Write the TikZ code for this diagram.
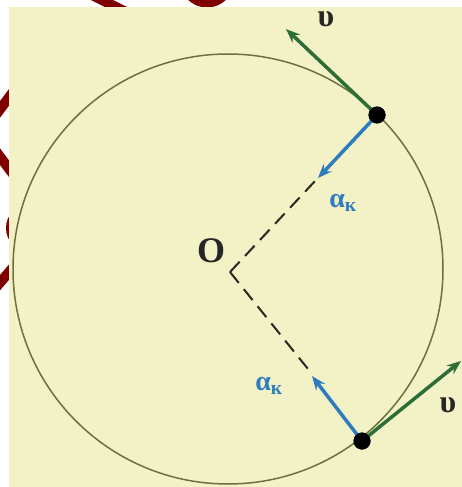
\documentclass[tikz,border=0pt]{standalone}
\usepackage{fontspec}
\setmainfont{Liberation Serif}
\usetikzlibrary{arrows.meta}
\definecolor{cream}{RGB}{243,241,198}
\definecolor{rim}{RGB}{105,115,60}
\definecolor{vgreen}{RGB}{45,110,55}
\definecolor{ablue}{RGB}{45,125,190}
\definecolor{deco}{RGB}{128,0,0}
\definecolor{dash}{RGB}{40,40,30}
\tikzset{
  decostroke/.style={draw=deco,line width=10pt},
  velarrow/.style={draw=vgreen,line width=3.5pt,-{Stealth[length=14pt,width=11pt]}},
  accarrow/.style={draw=ablue,line width=3.5pt,-{Stealth[length=14pt,width=11pt]}},
  radline/.style={draw=dash,line width=2pt,dash pattern=on 14pt off 8pt},
  pointdot/.style={circle,fill=black,inner sep=0pt,minimum size=17pt},
  vlabel/.style={inner sep=0pt,font=\fontsize{32}{32}\selectfont\bfseries,text=black!85},
  alabel/.style={font=\fontsize{28}{28}\selectfont\bfseries,text=ablue}
}
\begin{document}
\begin{tikzpicture}[x=1pt,y=-1pt]
\useasboundingbox (0,0) rectangle (462,487);
\fill[white] (0,0) rectangle (462,487);
% decorations peeking from behind
\draw[decostroke] (86,-8) -- (130,14);
\draw[deco,line width=11pt] (207,-20) circle (22);
\draw[decostroke] (16,88) -- (-8,120);
\draw[decostroke] (-8,146) -- (16,178);
\draw[deco,line width=6pt] (30,228) circle (21);
\draw[decostroke] (16,264) -- (-8,292);
% background
\fill[cream] (9,7) rectangle (462,487);
% circle
\draw[rim,line width=1.5pt] (228,269) circle (215);
% centre and points
\coordinate (O) at (230,272);
\node[pointdot] (P) at (377,115) {};
\node[pointdot] (Q) at (362,441) {};
\coordinate (dP) at (316,180);
\coordinate (dQ) at (308,369);
\coordinate (aP) at (318,178);
\coordinate (aQ) at (312,376);
\coordinate (vP) at (286,29);
\coordinate (vQ) at (461,361);
\draw[radline] (O) -- (dP);
\draw[radline] (O) -- (dQ);
\draw[accarrow] (P.center) -- (aP);
\draw[accarrow] (Q.center) -- (aQ);
\draw[velarrow] (P.center) -- (vP);
\draw[velarrow] (Q.center) -- (vQ);
\node[pointdot] at (P) {};
\node[pointdot] at (Q) {};
% labels
\node[font=\fontsize{36}{36}\selectfont\bfseries,text=black!85] (Olab) at (211,251) {O};
\node[vlabel] (vPlab) at (326,19) {υ};
\node[vlabel] (vQlab) at (448,405) {υ};
\node[alabel] (aPlab) at (343,203) {α\textsubscript{к}};
\node[alabel] (aQlab) at (269,386) {α\textsubscript{к}};
\end{tikzpicture}
\end{document}
